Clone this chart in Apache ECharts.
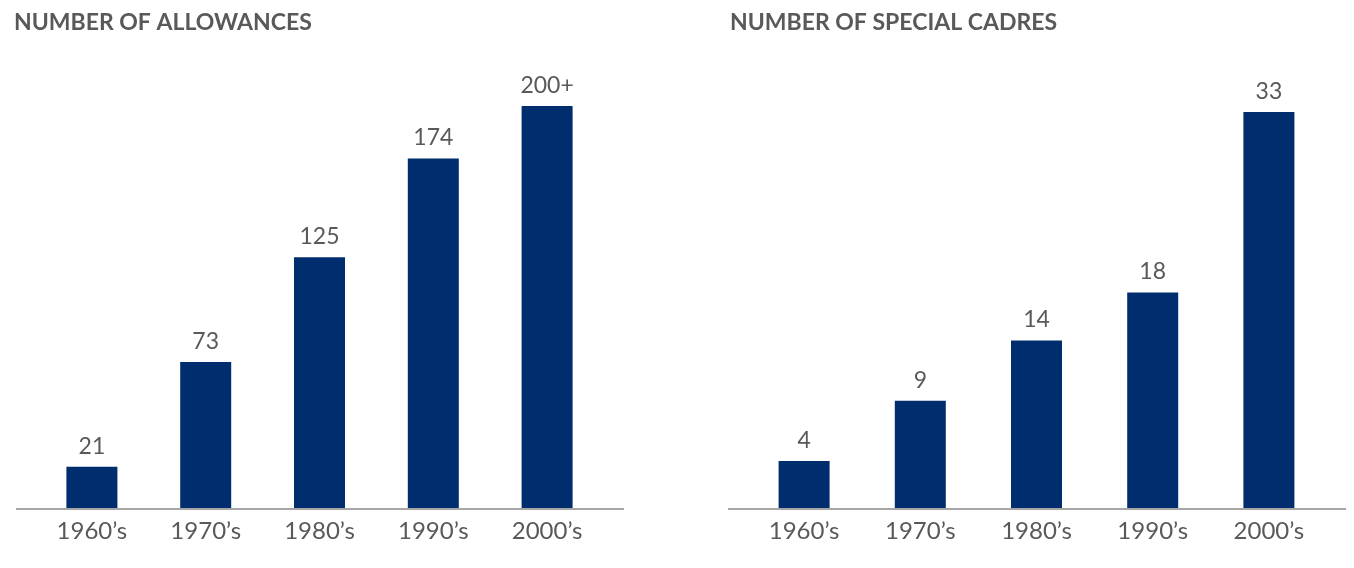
<!DOCTYPE html>
<html><head><meta charset="utf-8">
<script src="https://cdn.jsdelivr.net/npm/echarts@6/dist/echarts.min.js"></script>
<style>html,body{margin:0;padding:0;background:#fff}#c{width:1354px;height:568px}</style>
</head><body><div id="c"></div>
<script>
const categories = ["1960\u2019s","1970\u2019s","1980\u2019s","1990\u2019s","2000\u2019s"];
const allowances = [21, 73, 125, 174, 200];
const allowanceLabels = ["21","73","125","174","200+"];
const cadres = [4, 9, 14, 18, 33];
const cadreLabels = ["4","9","14","18","33"];
const titles = ["NUMBER OF ALLOWANCES", "NUMBER OF SPECIAL CADRES"];

const navy = "#002D6D", grey = "#595959", axisGrey = "#A6A6A6";
const font = "Lato";
const chart = echarts.init(document.getElementById('c'), null, {renderer:'canvas'});
function xAx(gi){return {type:'category', gridIndex:gi, data:categories,
  axisLine:{show:false}, axisTick:{show:false},
  axisLabel:{color:grey, fontSize:24, fontFamily:font, margin:10}};}
function yAx(gi,max){return {type:'value', gridIndex:gi, min:0, max:max, show:false, splitLine:{show:false}};}
function ser(gi,data,labels){return {type:'bar', xAxisIndex:gi, yAxisIndex:gi, data:data, barWidth:51,
  itemStyle:{color:navy},
  label:{show:true, position:'top', distance:9, color:grey, fontSize:23, fontFamily:font,
    formatter:p=>labels[p.dataIndex]}};}
chart.setOption({
  animation:false,
  title:[
    {text:titles[0], left:14, top:11, padding:0, textStyle:{color:grey, fontSize:23, fontWeight:'bold', fontFamily:font}},
    {text:titles[1], left:730, top:11, padding:0, textStyle:{color:grey, fontSize:23, fontWeight:'bold', fontFamily:font}}
  ],
  grid:[
    {left:35, width:569, top:106, bottom:59},
    {left:746, width:581, top:112, bottom:59}
  ],
  xAxis:[xAx(0), xAx(1)],
  yAxis:[yAx(0,200), yAx(1,33)],
  series:[ser(0,allowances,allowanceLabels), ser(1,cadres,cadreLabels)],
  graphic:[
    {type:'line', shape:{x1:16,y1:509,x2:624,y2:509}, style:{stroke:axisGrey, lineWidth:2}, z:10},
    {type:'line', shape:{x1:728,y1:509,x2:1346,y2:509}, style:{stroke:axisGrey, lineWidth:2}, z:10}
  ]
});
</script></body></html>
